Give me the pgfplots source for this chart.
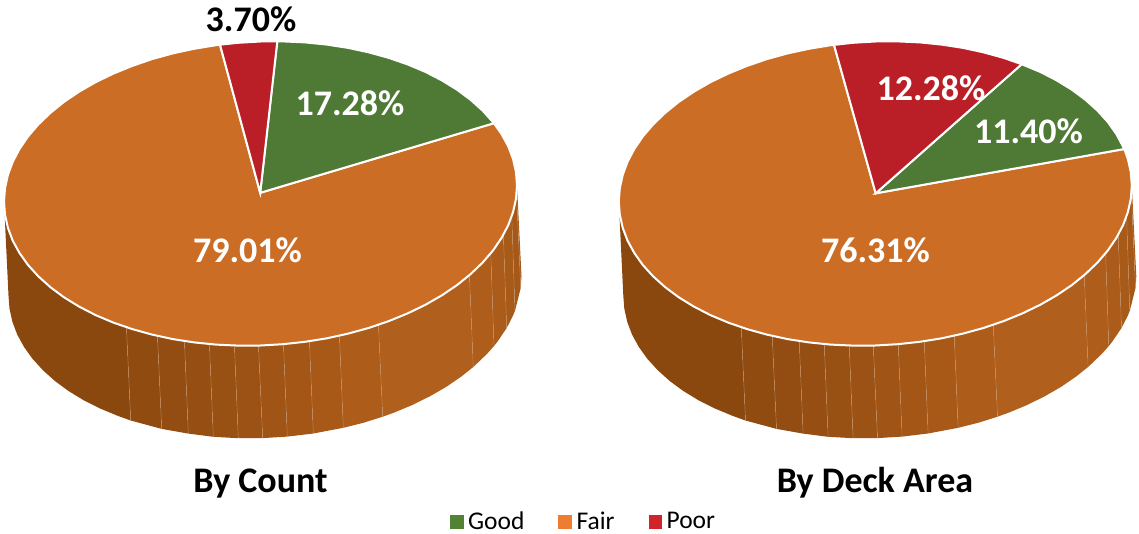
\documentclass[border=0pt]{standalone}
\usepackage{fontspec}
\setmainfont{Carlito}
\usepackage{pgfplots}
\pgfplotsset{compat=1.18}
\definecolor{topFair}{HTML}{CC6D26}
\definecolor{topGood}{HTML}{4E7A36}
\definecolor{topPoor}{HTML}{BA1E26}
\definecolor{legGood}{HTML}{548235}
\definecolor{legFair}{HTML}{ED7D31}
\definecolor{legPoor}{HTML}{D2232A}
\definecolor{seam}{HTML}{CB9A70}
\definecolor{sa}{HTML}{8B480E}
\definecolor{sb}{HTML}{904B10}
\definecolor{sc}{HTML}{934C11}
\definecolor{sd}{HTML}{964E12}
\definecolor{se}{HTML}{995013}
\definecolor{sf}{HTML}{9C5214}
\definecolor{sg}{HTML}{A05415}
\definecolor{sh}{HTML}{A35615}
\definecolor{si}{HTML}{A85917}
\definecolor{sj}{HTML}{AD5C19}
\definecolor{sk}{HTML}{B15F1C}
\definecolor{sl}{HTML}{AE5D1B}
\definecolor{sm}{HTML}{AB5B1A}
\definecolor{sn}{HTML}{A85A19}
\definecolor{so}{HTML}{A55818}
\tikzset{
  lab/.style={font=\fontsize{36}{36}\selectfont\bfseries,text=white,inner sep=0pt},
  ttl/.style={font=\fontsize{36}{36}\selectfont\bfseries,text=black,inner sep=0pt,anchor=base},
}
\pgfplotsset{
  piebase/.style={x=1pt,y=1pt,y dir=reverse,ymin=0,ymax=533,hide axis,clip=false,anchor=south west},
  facet/.style={forget plot,fill=#1,draw=none,mark=none},
  seamline/.style={forget plot,seam,line width=0.45pt,opacity=0.75,mark=none},
  slice/.style={forget plot,fill=#1,draw=white,line width=2pt,line join=miter,mark=none},
}
\newcommand{\pieside}{%
\addplot[facet=sa] coordinates {(4,201.5)(8.5,295.5)(9.5,308.7)(12.4,321.8)(17.2,334.5)(24,346.9)(32.5,358.8)(42.9,370.2)(54.9,381)(68.5,391)(83.6,400.2)(100.1,408.5)(117.9,415.9)(130.7,420.5)(126.3,324)} -- cycle;
\addplot[facet=sb] coordinates {(126.3,324)(130.7,420.5)(161.7,428.9)(157.3,333)} -- cycle;
\addplot[facet=sc] coordinates {(157.3,333)(161.7,428.9)(188.3,433.6)(184.3,338)} -- cycle;
\addplot[facet=sd] coordinates {(184.3,338)(188.3,433.6)(213.3,436.8)(209.3,341)} -- cycle;
\addplot[facet=se] coordinates {(209.3,341)(213.3,436.8)(238.3,438.2)(234.3,342.5)} -- cycle;
\addplot[facet=sf] coordinates {(234.3,342.5)(238.3,438.2)(262.7,438.1)(258.3,342.5)} -- cycle;
\addplot[facet=sg] coordinates {(258.3,342.5)(262.7,438.1)(287.3,436.6)(283.3,341)} -- cycle;
\addplot[facet=sh] coordinates {(283.3,341)(287.3,436.6)(313.3,433.5)(309.3,338)} -- cycle;
\addplot[facet=si] coordinates {(309.3,338)(313.3,433.5)(343.3,427.8)(339.3,332.5)} -- cycle;
\addplot[facet=sj] coordinates {(339.3,332.5)(343.3,427.8)(363,422.9)(382.7,416.7)(378.3,322)} -- cycle;
\addplot[facet=sk] coordinates {(378.3,322)(382.7,416.7)(393.3,412.9)(412.1,405.1)(429.9,396.3)(446.4,386.8)(461.5,376.4)(473.3,367)(469.3,272)} -- cycle;
\addplot[facet=sl] coordinates {(469.3,272)(473.3,367)(487.1,353.8)(494,346)(490.7,250.5)} -- cycle;
\addplot[facet=sm] coordinates {(490.7,250.5)(494,346)(497.5,341.6)(506.7,328)(503.3,232.5)} -- cycle;
\addplot[facet=sn] coordinates {(503.3,232.5)(506.7,328)(512.8,316.1)(515,310.7)(511.7,214)} -- cycle;
\addplot[facet=so] coordinates {(511.7,214)(515,310.7)(520.7,288)(516.7,198)} -- cycle;
\addplot[facet=so] coordinates {(516.7,198)(520.7,288)(521.5,276.5)(517,185.5)} -- cycle;
\addplot[seamline] coordinates {(126.3,324)(130.7,420.5)};
\addplot[seamline] coordinates {(157.3,333)(161.7,428.9)};
\addplot[seamline] coordinates {(184.3,338)(188.3,433.6)};
\addplot[seamline] coordinates {(209.3,341)(213.3,436.8)};
\addplot[seamline] coordinates {(234.3,342.5)(238.3,438.2)};
\addplot[seamline] coordinates {(258.3,342.5)(262.7,438.1)};
\addplot[seamline] coordinates {(283.3,341)(287.3,436.6)};
\addplot[seamline] coordinates {(309.3,338)(313.3,433.5)};
\addplot[seamline] coordinates {(339.3,332.5)(343.3,427.8)};
\addplot[seamline] coordinates {(378.3,322)(382.7,416.7)};
\addplot[seamline] coordinates {(469.3,272)(473.3,367)};
\addplot[seamline] coordinates {(490.7,250.5)(494,346)};
\addplot[seamline] coordinates {(503.3,232.5)(506.7,328)};
\addplot[seamline] coordinates {(511.7,214)(515,310.7)};
\addplot[seamline] coordinates {(516.7,198)(520.7,288)};
}
\begin{document}
\begin{tikzpicture}
\path[use as bounding box] (0,0) rectangle (1139pt,533pt);
% ---------- By Count
\begin{axis}[piebase,at={(0pt,0pt)},xmin=0,xmax=570]
\pieside
\addplot[slice=topFair] coordinates {(260.2,192.8)(493.9,123.2)(501.5,134)(508.3,146.4)(513.1,159.2)(516,172.3)(517,185.5)(516,198.8)(513.1,212)(508.3,225.1)(501.5,238)(493,250.5)(482.6,262.6)(470.6,274.1)(457,285.1)(441.9,295.3)(425.4,304.8)(407.6,313.4)(388.8,321.1)(368.9,327.9)(348.2,333.6)(326.9,338.3)(305,341.8)(282.9,344.2)(260.5,345.5)(238.1,345.6)(216,344.6)(194.1,342.4)(172.8,339.1)(152.1,334.6)(132.3,329.1)(113.4,322.6)(95.6,315.1)(79.1,306.6)(64,297.3)(50.4,287.2)(38.4,276.4)(28,265)(19.5,253)(12.7,240.6)(7.9,227.8)(5,214.7)(4,201.5)(5,188.2)(7.9,175)(12.7,161.9)(19.5,149)(28,136.5)(38.4,124.4)(50.4,112.9)(64,101.9)(79.1,91.7)(95.6,82.2)(113.4,73.6)(132.3,65.9)(152.1,59.1)(172.8,53.4)(194.1,48.8)(216,45.2)(220,44.7)} -- cycle;
\addplot[slice=topGood] coordinates {(260.2,192.8)(277.3,41.3)(282.9,41.4)(305,42.4)(326.9,44.6)(348.2,47.9)(368.9,52.4)(388.8,57.9)(407.6,64.4)(425.4,71.9)(441.9,80.4)(457,89.7)(470.6,99.8)(482.6,110.6)(493.9,123.2)} -- cycle;
\addplot[slice=topPoor] coordinates {(260.2,192.8)(220,44.7)(238.1,42.8)(260.5,41.5)(277.3,41.3)} -- cycle;
\node[lab,text=black] at (251,19.5) {3.70\%};
\node[lab] at (350,103) {17.28\%};
\node[lab] at (247.5,250.5) {79.01\%};
\node[ttl] at (260.5,492) {By Count};
\end{axis}
% ---------- By Deck Area (same drawing space, shifted by 614.8)
\begin{axis}[piebase,at={(570pt,0pt)},xmin=-44.8,xmax=524.2,
  legend style={at={(0.0237,0.0215)},anchor=center,draw=none,fill=none,legend columns=-1,
    font=\fontsize{25.5}{25.5}\selectfont,inner sep=0pt,
    /tikz/every even column/.append style={column sep=32pt}},
  legend image code/.code={\fill[#1] (0pt,-6.3pt) rectangle (12.7pt,6.3pt);\path (15.7pt,0pt);}]
\pieside
\addplot[slice=topFair] coordinates {(260.9,193.3)(509.5,149)(513.1,159.2)(516,172.3)(517,185.5)(516,198.8)(513.1,212)(508.3,225.1)(501.5,238)(493,250.5)(482.6,262.6)(470.6,274.1)(457,285.1)(441.9,295.3)(425.4,304.8)(407.6,313.4)(388.8,321.1)(368.9,327.9)(348.2,333.6)(326.9,338.3)(305,341.8)(282.9,344.2)(260.5,345.5)(238.1,345.6)(216,344.6)(194.1,342.4)(172.8,339.1)(152.1,334.6)(132.3,329.1)(113.4,322.6)(95.6,315.1)(79.1,306.6)(64,297.3)(50.4,287.2)(38.4,276.4)(28,265)(19.5,253)(12.7,240.6)(7.9,227.8)(5,214.7)(4,201.5)(5,188.2)(7.9,175)(12.7,161.9)(19.5,149)(28,136.5)(38.4,124.4)(50.4,112.9)(64,101.9)(79.1,91.7)(95.6,82.2)(113.4,73.6)(132.3,65.9)(152.1,59.1)(172.8,53.4)(194.1,48.8)(216,45.2)(219.2,44.9)} -- cycle;
\addplot[slice=topGood] coordinates {(260.9,193.3)(406.9,64.2)(425.4,71.9)(441.9,80.4)(457,89.7)(470.6,99.8)(482.6,110.6)(493,122)(501.5,134)(509.5,149)} -- cycle;
\addplot[slice=topPoor] coordinates {(260.9,193.3)(219.2,44.9)(238.1,42.8)(260.5,41.5)(282.9,41.4)(305,42.4)(326.9,44.6)(348.2,47.9)(368.9,52.4)(388.8,57.9)(406.9,64.2)} -- cycle;
\node[lab] at (316.2,88) {12.28\%};
\node[lab] at (413.7,131) {11.40\%};
\node[lab] at (260.7,250.5) {76.31\%};
\node[ttl] at (260.2,492) {By Deck Area};
\addlegendimage{legGood}\addlegendentry{Good}
\addlegendimage{legFair}\addlegendentry{Fair}
\addlegendimage{legPoor}\addlegendentry{Poor}
\end{axis}
\end{tikzpicture}
\end{document}
